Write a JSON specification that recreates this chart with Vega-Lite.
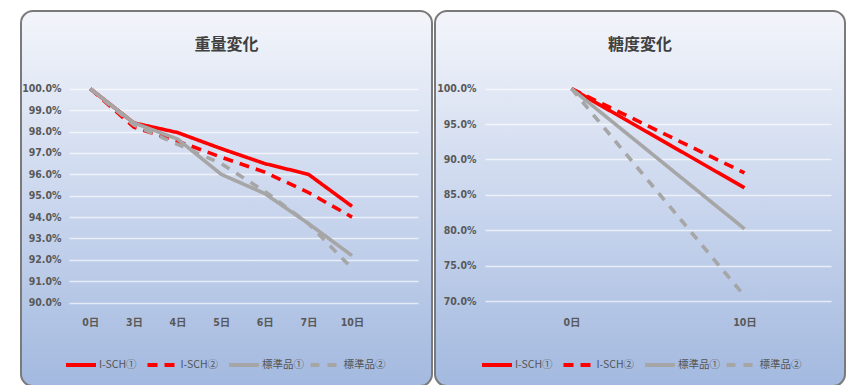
{
  "$schema": "https://vega.github.io/schema/vega-lite/v6.json",
  "padding": {"left": 20, "top": 10, "right": 0, "bottom": 0},
  "autosize": {"type": "pad"},
  "background": "white",
  "spacing": 1,
  "datasets": {
    "weight": [
      {"day": "0日", "series": "I-SCH①", "value": 1.000},
      {"day": "3日", "series": "I-SCH①", "value": 0.984},
      {"day": "4日", "series": "I-SCH①", "value": 0.9795},
      {"day": "5日", "series": "I-SCH①", "value": 0.972},
      {"day": "6日", "series": "I-SCH①", "value": 0.965},
      {"day": "7日", "series": "I-SCH①", "value": 0.960},
      {"day": "10日", "series": "I-SCH①", "value": 0.945},
      {"day": "0日", "series": "I-SCH②", "value": 1.000},
      {"day": "3日", "series": "I-SCH②", "value": 0.982},
      {"day": "4日", "series": "I-SCH②", "value": 0.9755},
      {"day": "5日", "series": "I-SCH②", "value": 0.968},
      {"day": "6日", "series": "I-SCH②", "value": 0.961},
      {"day": "7日", "series": "I-SCH②", "value": 0.9515},
      {"day": "10日", "series": "I-SCH②", "value": 0.940},
      {"day": "0日", "series": "標準品①", "value": 1.000},
      {"day": "3日", "series": "標準品①", "value": 0.984},
      {"day": "4日", "series": "標準品①", "value": 0.9765},
      {"day": "5日", "series": "標準品①", "value": 0.960},
      {"day": "6日", "series": "標準品①", "value": 0.951},
      {"day": "7日", "series": "標準品①", "value": 0.937},
      {"day": "10日", "series": "標準品①", "value": 0.922},
      {"day": "0日", "series": "標準品②", "value": 1.000},
      {"day": "3日", "series": "標準品②", "value": 0.983},
      {"day": "4日", "series": "標準品②", "value": 0.974},
      {"day": "5日", "series": "標準品②", "value": 0.965},
      {"day": "6日", "series": "標準品②", "value": 0.952},
      {"day": "7日", "series": "標準品②", "value": 0.937},
      {"day": "10日", "series": "標準品②", "value": 0.916}
    ],
    "sugar": [
      {"day": "0日", "series": "I-SCH①", "value": 1.000},
      {"day": "10日", "series": "I-SCH①", "value": 0.860},
      {"day": "0日", "series": "I-SCH②", "value": 1.000},
      {"day": "10日", "series": "I-SCH②", "value": 0.881},
      {"day": "0日", "series": "標準品①", "value": 1.000},
      {"day": "10日", "series": "標準品①", "value": 0.802},
      {"day": "0日", "series": "標準品②", "value": 1.000},
      {"day": "10日", "series": "標準品②", "value": 0.707}
    ]
  },
  "config": {
    "font": "DejaVu Sans Condensed, Noto Sans CJK JP, sans-serif",
    "view": {
      "fill": {"gradient": "linear", "x1": 0, "y1": 0, "x2": 0, "y2": 1,
        "stops": [{"offset": 0, "color": "#f3f5fa"}, {"offset": 0.5, "color": "#cbd7ee"}, {"offset": 1, "color": "#a3b9df"}]},
      "stroke": "#7a7a7a",
      "strokeWidth": 2,
      "cornerRadius": 12
    },
    "title": {"font": "Noto Sans CJK JP", "fontSize": 16, "fontWeight": "bold", "color": "#404040", "anchor": "middle", "frame": "group"},
    "axis": {
      "labelFont": "DejaVu Sans Condensed, Noto Sans CJK JP, sans-serif",
      "labelFontSize": 10.5,
      "labelFontWeight": "bold",
      "labelColor": "#595959",
      "domain": false,
      "ticks": false,
      "tickSize": 0,
      "title": null
    },
    "legend": {
      "labelFont": "Noto Sans CJK JP",
      "labelFontSize": 10.5,
      "labelColor": "#555555",
      "symbolType": "stroke",
      "symbolSize": 900,
      "symbolStrokeWidth": 4,
      "labelOffset": 1,
      "columnPadding": -1.5,
      "gridAlign": "all"
    }
  },
  "resolve": {
    "scale": {"color": "independent", "strokeDash": "independent"},
    "legend": {"color": "independent", "strokeDash": "independent"}
  },
  "hconcat": [
    {
      "width": 411,
      "height": 375,
      "title": {"text": "重量変化", "offset": -42},
      "data": {"name": "weight"},
      "mark": {"type": "line", "strokeWidth": 3.6, "strokeCap": "butt"},
      "encoding": {
        "x": {
          "field": "day", "type": "ordinal",
          "sort": ["0日", "3日", "4日", "5日", "6日", "7日", "10日"],
          "scale": {"type": "point", "range": [48, 397], "padding": 1.0115, "align": 0.244},
          "axis": {"grid": false, "labelAngle": 0, "offset": -71, "labelPadding": 2}
        },
        "y": {
          "field": "value", "type": "quantitative",
          "scale": {"domain": [0.9, 1.0], "range": [291.7, 77.7], "nice": false, "zero": false},
          "axis": {"values": [0.9, 0.91, 0.92, 0.93, 0.94, 0.95, 0.96, 0.97, 0.98, 0.99, 1.0], "format": ".1%", "offset": -48, "labelPadding": 8, "grid": true, "gridColor": "#ffffff", "gridOpacity": 0.65, "gridWidth": 1.5}
        },
        "color": {
          "field": "series", "type": "nominal",
          "scale": {"domain": ["I-SCH①", "I-SCH②", "標準品①", "標準品②"], "range": ["#ff0000", "#ff0000", "#a6a6a6", "#a6a6a6"]},
          "legend": {"title": null, "orient": "none", "direction": "horizontal", "legendX": 43, "legendY": 337}
        },
        "strokeDash": {
          "field": "series", "type": "nominal",
          "scale": {"domain": ["I-SCH①", "I-SCH②", "標準品①", "標準品②"], "range": [[1, 0], [10, 7], [1, 0], [9, 8]]},
          "legend": {"title": null, "orient": "none", "direction": "horizontal", "legendX": 43, "legendY": 337}
        }
      }
    },
    {
      "width": 410,
      "height": 375,
      "title": {"text": "糖度変化", "offset": -42},
      "data": {"name": "sugar"},
      "mark": {"type": "line", "strokeWidth": 3.6, "strokeCap": "butt"},
      "encoding": {
        "x": {
          "field": "day", "type": "ordinal",
          "sort": ["0日", "10日"],
          "scale": {"type": "point", "range": [50, 396], "padding": 0.5},
          "axis": {"grid": false, "labelAngle": 0, "offset": -71, "labelPadding": 2}
        },
        "y": {
          "field": "value", "type": "quantitative",
          "scale": {"domain": [0.7, 1.0], "range": [290, 77.7], "nice": false, "zero": false},
          "axis": {"values": [0.7, 0.75, 0.8, 0.85, 0.9, 0.95, 1.0], "format": ".1%", "offset": -50, "labelPadding": 9, "grid": true, "gridColor": "#ffffff", "gridOpacity": 0.65, "gridWidth": 1.5}
        },
        "color": {
          "field": "series", "type": "nominal",
          "scale": {"domain": ["I-SCH①", "I-SCH②", "標準品①", "標準品②"], "range": ["#ff0000", "#ff0000", "#a6a6a6", "#a6a6a6"]},
          "legend": {"title": null, "orient": "none", "direction": "horizontal", "legendX": 45, "legendY": 337}
        },
        "strokeDash": {
          "field": "series", "type": "nominal",
          "scale": {"domain": ["I-SCH①", "I-SCH②", "標準品①", "標準品②"], "range": [[1, 0], [10, 7], [1, 0], [9, 8]]},
          "legend": {"title": null, "orient": "none", "direction": "horizontal", "legendX": 45, "legendY": 337}
        }
      }
    }
  ]
}
